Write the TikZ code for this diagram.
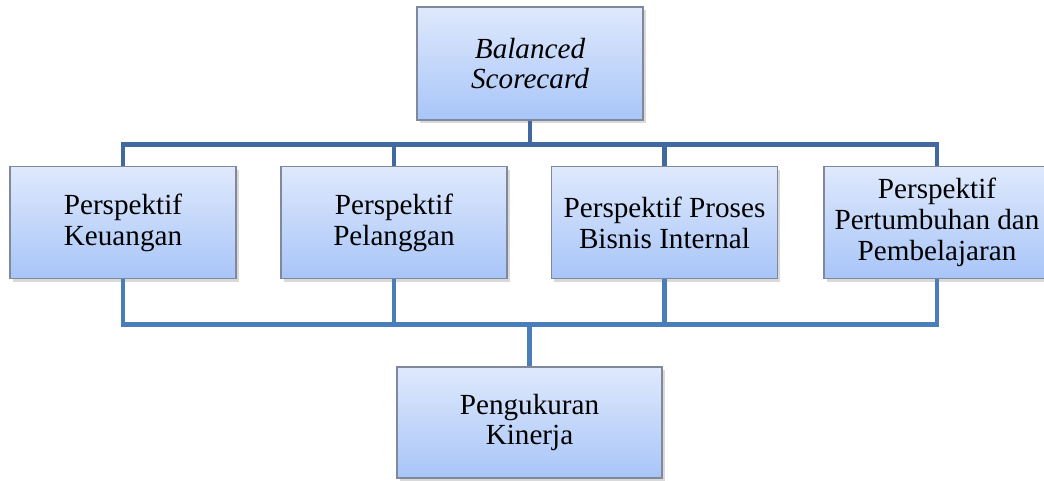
\documentclass[tikz,border=0pt]{standalone}
\usepackage{fontspec}
\setmainfont{Liberation Serif}
\usetikzlibrary{shadows}
\definecolor{boxtop}{HTML}{DFE9FC}
\definecolor{boxbot}{HTML}{A8C5F8}
\definecolor{boxrim}{HTML}{80899C}
\definecolor{linktop}{HTML}{41699F}
\definecolor{linkbot}{HTML}{4A7EBB}
\tikzset{
    bscbox/.style={draw=boxrim, line width=0.8pt, top color=boxtop, bottom color=boxbot,
        minimum width=4.52cm, minimum height=2.24cm, align=center,
        font=\fontsize{16.6}{17.5}\selectfont,
        drop shadow={opacity=0.3, shadow xshift=0.05cm, shadow yshift=-0.06cm}},
    uplink/.style={draw=linktop, line width=2.8pt},
    downlink/.style={draw=linkbot, line width=2.8pt}
}
\begin{document}
\begin{tikzpicture}
\useasboundingbox (0,0) rectangle (20.88,9.6);
\node[bscbox, minimum height=2.26cm] (bsc) at (10.6,8.33) {\itshape Balanced\\\itshape Scorecard};
\node[bscbox] (keu) at (2.46,5.15) {Perspektif\\Keuangan};
\node[bscbox] (pel) at (7.88,5.15) {Perspektif\\Pelanggan};
\node[bscbox] (pro) at (13.29,5.15) {Perspektif Proses\\Bisnis Internal};
\node[bscbox] (per) at (18.74,5.15) {Perspektif\\Pertumbuhan dan\\Pembelajaran};
\node[bscbox, minimum width=5.3cm, minimum height=2.22cm] (kin) at (10.59,1.15) {Pengukuran\\Kinerja};
\foreach \p in {keu,pel,pro,per}{
    \draw[uplink] (bsc.south) -- ++(0,-0.47) -| (\p.north);
    \draw[downlink] (\p.south) -- ++(0,-0.9) -| (kin.north);
}
\end{tikzpicture}
\end{document}
